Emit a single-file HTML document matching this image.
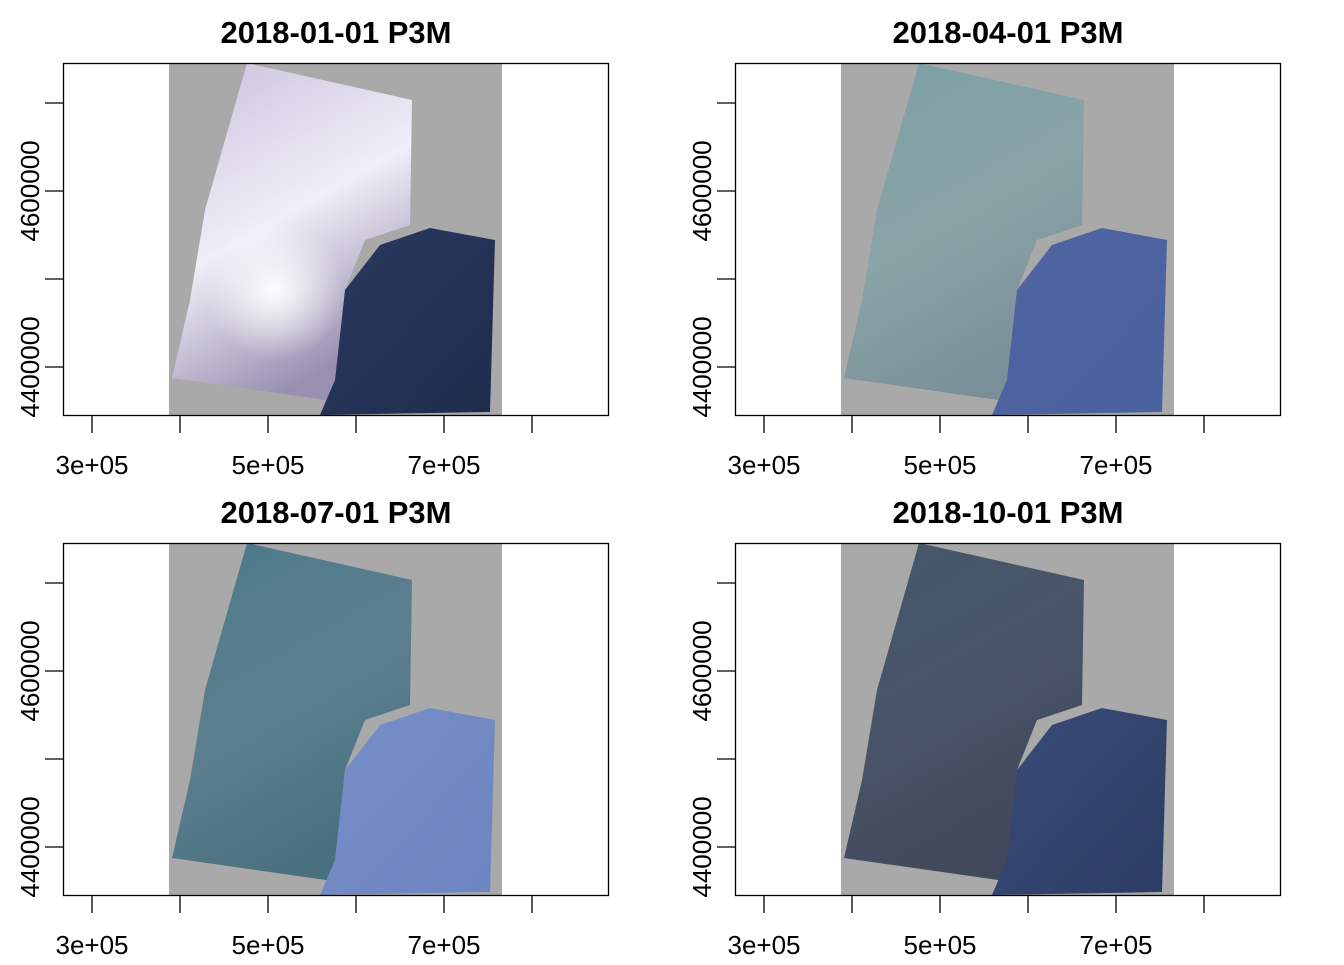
<!DOCTYPE html>
<html><head><meta charset="utf-8"><style>
body{margin:0;background:#fff}
svg text{font-family:"Liberation Sans",Arial,sans-serif}
</style></head><body>
<svg id="c" width="1344" height="960"></svg>
<script>
const titles=["2018-01-01 P3M","2018-04-01 P3M","2018-07-01 P3M","2018-10-01 P3M"];
const xTicks=[300000,400000,500000,600000,700000,800000];
const xLabels=["3e+05","","5e+05","","7e+05",""];
const yTicks=[4700000,4600000,4500000,4400000];
const yLabels=["","4600000","","4400000"];
const leftColors=[["#c8c0dc","#f0eef8","#9890b0"],["#7aa0a4","#8aa4a8","#7a9098"],["#4c7888","#5c8090","#4a7080"],["#44586a","#4a5468","#40485a"]];
const rightColors=[["#2a3a60","#1e2c4c"],["#4e64a0","#4a62a0"],["#7890c8","#6c84c0"],["#3a4c78","#2c3c64"]];
const S="http://www.w3.org/2000/svg";
const svg=document.getElementById('c');
function mk(t,a,p){const e=document.createElementNS(S,t);for(const k in a)e.setAttribute(k,a[k]);(p||svg).appendChild(e);return e;}
const defs=mk('defs',{});
const sx=v=>92+(v-300000)/100000*88;
const sy=v=>103+(4700000-v)/100000*88;
const rad=mk('radialGradient',{id:'blob',cx:0.5,cy:0.5,r:0.5},defs);
mk('stop',{offset:'0',"stop-color":"#ffffff","stop-opacity":0.95},rad);
mk('stop',{offset:'1',"stop-color":"#ffffff","stop-opacity":0},rad);
for(let i=0;i<4;i++){
  const ox=(i%2)*672, oy=Math.floor(i/2)*480;
  const g=mk('g',{transform:`translate(${ox},${oy})`});
  
  
  const lg=mk('linearGradient',{id:'l'+i,x1:0,y1:0,x2:0.4,y2:1},defs);
  mk('stop',{offset:'0',"stop-color":leftColors[i][0]},lg);
  mk('stop',{offset:'0.55',"stop-color":leftColors[i][1]},lg);
  mk('stop',{offset:'1',"stop-color":leftColors[i][2]},lg);
  const rg=mk('linearGradient',{id:'r'+i,x1:0,y1:0,x2:1,y2:1},defs);
  mk('stop',{offset:'0',"stop-color":rightColors[i][0]},rg);
  mk('stop',{offset:'1',"stop-color":rightColors[i][1]},rg);
  const bg=mk('rect',{x:169,y:63,width:333,height:352,fill:'#a9a9a9'},g);
  
  
  const lt=mk('polygon',{points:'247,63 412,100 410,225 365,240 345,290 340,402 172,378 190,300 205,210',fill:`url(#l${i})`},g);
  
  
  if(i===0){const b=mk('ellipse',{cx:275,cy:290,rx:70,ry:70,fill:'url(#blob)'},g);
    
    }
  const rt=mk('polygon',{points:'345,290 380,245 430,228 495,240 490,412 320,415 335,380',fill:`url(#r${i})`},g);
  
  
  const box=mk('rect',{x:63.5,y:63.5,width:545,height:352,fill:'none',stroke:'#000','stroke-width':1.3},g);
  
  
  const t=mk('text',{x:336,y:43,'text-anchor':'middle','font-size':31,'font-weight':'bold'},g);
  t.textContent=titles[i];
  
  
  xTicks.forEach((v,j)=>{
    const x=sx(v);
    mk('line',{x1:x,x2:x,y1:415,y2:433,stroke:'#000','stroke-width':1.3},g);
    if(xLabels[j]){const l=mk('text',{x:x,y:474,'text-anchor':'middle','font-size':26},g);l.textContent=xLabels[j];
      
      }
  });
  yTicks.forEach((v,j)=>{
    const y=sy(v);
    mk('line',{x1:45,x2:63,y1:y,y2:y,stroke:'#000','stroke-width':1.3},g);
    if(yLabels[j]){const l=mk('text',{x:0,y:0,'text-anchor':'middle','font-size':26,transform:`translate(39,${y}) rotate(-90)`},g);l.textContent=yLabels[j];
      
      }
  });
}
</script>
</body></html>
